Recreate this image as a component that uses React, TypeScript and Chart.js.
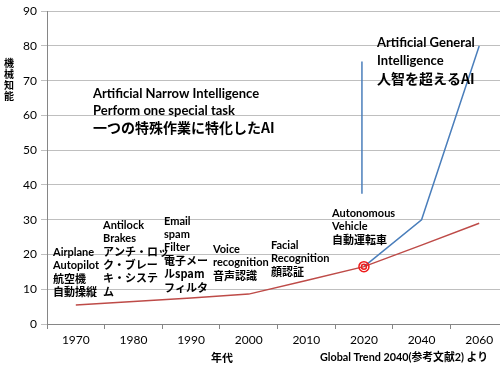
import React, { useEffect, useRef } from "react";
import { Chart, registerables } from "chart.js";

Chart.register(...registerables);

const categories = ["1970", "1980", "1990", "2000", "2010", "2020", "2040", "2060"];
const narrowAI = [5.5, 6.5, 7.5, 8.6, 12.5, 16.5, 22.7, 29];
const generalAI = [null, null, null, null, null, 16.5, 30, 80];
const yMax = 90;
const yStep = 10;
const markerIndex = 5;
const markerValue = 16.5;
const agiBarIndex = 5;
const agiBarRange = [37.5, 75.5];

const yTitleChars = ["機", "械", "知", "能"];
const xTitle = "年代";
const sourceNote = "Global Trend 2040(参考文献2) より";

const milestoneTexts = [
  ["Airplane", "Autopilot", "航空機", "自動操縦"],
  ["Antilock", "Brakes", "アンチ・ロッ", "ク・ブレー", "キ・システ", "ム"],
  ["Email", "spam", "Filter", "電子メー", "ルspam", "フィルタ"],
  ["Voice", "recognition", "音声認識"],
  ["Facial", "Recognition", "顔認証"],
  ["Autonomous", "Vehicle", "自動運転車"],
];
const aniText = ["Artificial Narrow Intelligence", "Perform one special task", "一つの特殊作業に特化したAI"];
const agiText = ["Artificial General", "Intelligence", "人智を超えるAI"];

const FONT = 'Lato, "Noto Sans CJK JP", sans-serif';
const JFONT = '"Noto Sans CJK JP", Lato, sans-serif';

// layout for the text blocks (top-left x, first line centre y)
const milestonePos = [
  [53, 252],
  [103, 225],
  [164, 221],
  [213, 249],
  [271, 245],
  [332, 213],
];

const annotPlugin = {
  id: "annot",
  afterDatasetsDraw(chart: any) {
    const ctx = chart.ctx;
    const xs = chart.scales.x;
    const ys = chart.scales.y;
    ctx.save();
    // vertical AGI bar
    const bx = xs.getPixelForValue(agiBarIndex) - 2;
    ctx.strokeStyle = "#4a7ebb";
    ctx.lineWidth = 1.5;
    ctx.beginPath();
    ctx.moveTo(bx, ys.getPixelForValue(agiBarRange[0]));
    ctx.lineTo(bx, ys.getPixelForValue(agiBarRange[1]));
    ctx.stroke();
    // double circle marker
    const mx = xs.getPixelForValue(markerIndex);
    const my = ys.getPixelForValue(markerValue);
    ctx.strokeStyle = "#ee1c1c";
    ctx.lineWidth = 1.5;
    ctx.beginPath();
    ctx.arc(mx, my, 5, 0, Math.PI * 2);
    ctx.stroke();
    ctx.beginPath();
    ctx.arc(mx, my, 2.5, 0, Math.PI * 2);
    ctx.stroke();

    ctx.fillStyle = "#000";
    ctx.textAlign = "left";
    ctx.textBaseline = "middle";
    const isJ = (s: string) => /[\u3000-\u9fff\u30a0-\u30ff]/.test(s);
    milestoneTexts.forEach((lines, i) => {
      const [x0, y0] = milestonePos[i];
      lines.forEach((l, j) => {
        ctx.font = isJ(l) ? `bold 11px ${JFONT}` : `bold 11px ${FONT}`;
        ctx.fillText(l, x0, y0 + j * 13.3);
      });
    });
    // ANI
    ctx.font = `bold 13px ${FONT}`;
    ctx.fillText(aniText[0], 93, 94);
    ctx.fillText(aniText[1], 93, 111);
    ctx.font = `bold 14px ${JFONT}`;
    ctx.fillText(aniText[2], 93, 128);
    // AGI
    ctx.font = `bold 13px ${FONT}`;
    ctx.fillText(agiText[0], 377, 43);
    ctx.fillText(agiText[1], 377, 61);
    ctx.font = `bold 14px ${JFONT}`;
    ctx.fillText(agiText[2], 377, 79);
    // y title
    ctx.font = `bold 10px ${JFONT}`;
    ctx.textAlign = "center";
    yTitleChars.forEach((c, i) => ctx.fillText(c, 9, 63 + i * 11));
    // x title & note
    ctx.font = `bold 11px ${JFONT}`;
    ctx.fillText(xTitle, 222, 358);
    ctx.textAlign = "left";
    ctx.font = `bold 10.8px ${FONT}`;
    ctx.fillText(sourceNote, 320, 358);
    ctx.restore();
  },
};

export default function App() {
  const ref = useRef<HTMLCanvasElement | null>(null);
  useEffect(() => {
    document.body.style.overflow = "hidden";
    const chart = new Chart(ref.current as HTMLCanvasElement, {
      type: "line",
      data: {
        labels: categories,
        datasets: [
          {
            label: "narrow",
            data: narrowAI,
            borderColor: "#be4b48",
            borderWidth: 1.5,
            pointRadius: 0,
            tension: 0,
          },
          {
            label: "general",
            data: generalAI,
            borderColor: "#4a7ebb",
            borderWidth: 1.5,
            pointRadius: 0,
            tension: 0,
          },
        ],
      },
      options: {
        responsive: false,
        animation: false,
        layout: { padding: { left: 0, right: 12, top: 11, bottom: 0 } },
        plugins: { legend: { display: false }, tooltip: { enabled: false } },
        scales: {
          x: {
            offset: true,
            grid: { offset: true, drawOnChartArea: false, tickLength: 5, color: "#868686" },
            border: { color: "#868686" },
            ticks: { color: "#000", font: { family: FONT, size: 12 }, padding: 4, maxRotation: 0, autoSkip: false },
            afterFit: (s: any) => {
              s.height = 49;
            },
          },
          y: {
            min: 0,
            max: yMax,
            ticks: { stepSize: yStep, color: "#000", font: { family: FONT, size: 12 }, padding: 4 },
            grid: { color: "#bfbfbf", tickLength: 6 },
            border: { color: "#868686" },
            afterFit: (s: any) => {
              s.width = 47;
            },
          },
        },
      },
      plugins: [annotPlugin],
    });
    return () => chart.destroy();
  }, []);
  return (
    <div style={{ position: "fixed", left: 0, top: 0, width: 520, height: 373, background: "#fff" }}>
      <canvas ref={ref} width={520} height={373} />
    </div>
  );
}
